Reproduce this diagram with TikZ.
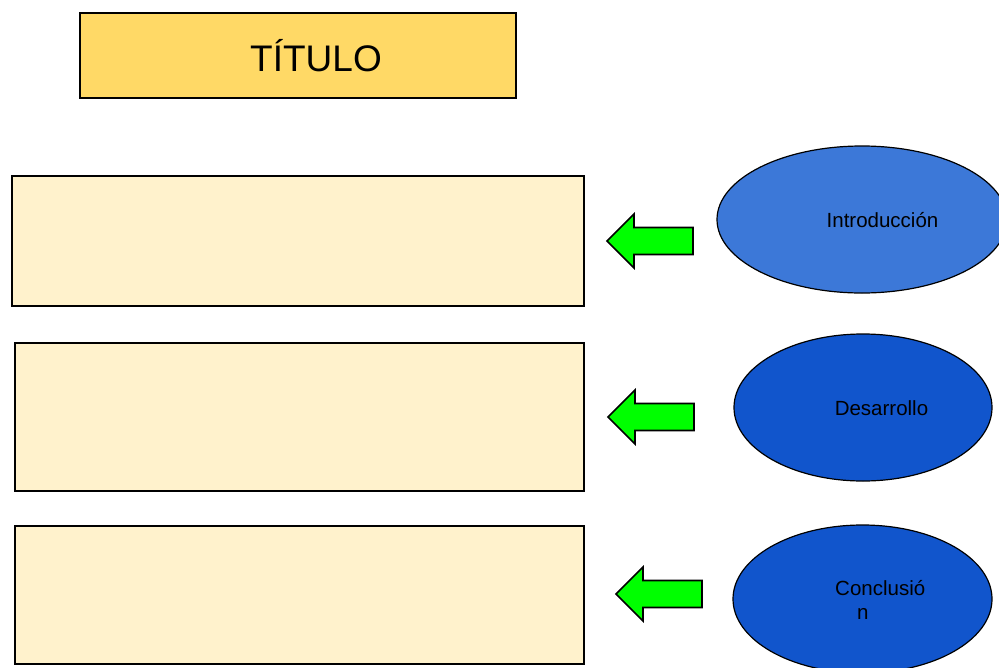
\documentclass[tikz,border=0pt]{standalone}
\usepackage{fontspec}
\setmainfont{Liberation Sans}
\usetikzlibrary{shapes.geometric}
\definecolor{titlefill}{HTML}{FFD966}
\definecolor{boxfill}{HTML}{FFF2CC}
\definecolor{arrowgreen}{HTML}{00FF00}
\definecolor{ellA}{HTML}{3C78D8}
\definecolor{ellB}{HTML}{1155CC}
\tikzset{
  titlebox/.style={draw=black, line width=1.2pt, fill=titlefill, inner sep=0pt, minimum width=436pt, minimum height=85pt, font=\fontsize{37}{40}\selectfont},
  contentbox/.style={draw=black, line width=1.1pt, fill=boxfill, inner sep=0pt},
  ovalnode/.style={ellipse, draw=black, line width=1.2pt, inner sep=0pt},
  ovaltext/.style={font=\fontsize{20.5}{24}\selectfont, inner sep=0pt, align=left},
  greenarrow/.style={draw=black, line width=1.6pt, fill=arrowgreen, line join=miter},
  pics/leftarrow/.style={code={
    \draw[greenarrow] (0,0) -- (27,-27) -- (27,-13.5) -- (86,-13.5) -- (86,13.5) -- (27,13.5) -- (27,27) -- cycle;
  }}
}
\begin{document}
\begin{tikzpicture}[x=1pt, y=-1pt]
\useasboundingbox (0,0) rectangle (999,667);
\node[titlebox] (title) at (298,55.5) {\hspace*{36pt}TÍTULO};
\node[contentbox, minimum width=572pt, minimum height=130pt] (box1) at (298,241) {};
\node[contentbox, minimum width=569pt, minimum height=148pt] (box2) at (299.5,417) {};
\node[contentbox, minimum width=569pt, minimum height=138pt] (box3) at (299.5,595) {};
\pic at (607,241) {leftarrow};
\pic at (608,417) {leftarrow};
\pic at (616,594) {leftarrow};
\node[ovalnode, fill=ellA, minimum width=290pt, minimum height=147pt] (e1) at (862,219.5) {};
\node[ovalnode, fill=ellB, minimum width=258pt, minimum height=147pt] (e2) at (863,407.5) {};
\node[ovalnode, fill=ellB, minimum width=259pt, minimum height=148pt] (e3) at (862.5,599) {};
\node[ovaltext] (t1) at (882.5,220) {Introducción};
\node[ovaltext] (t2) at (881.5,408) {Desarrollo};
\node[ovaltext, anchor=north west] (t3) at (835,580) {Conclusió\\\hspace{22pt}n};
\end{tikzpicture}
\end{document}
